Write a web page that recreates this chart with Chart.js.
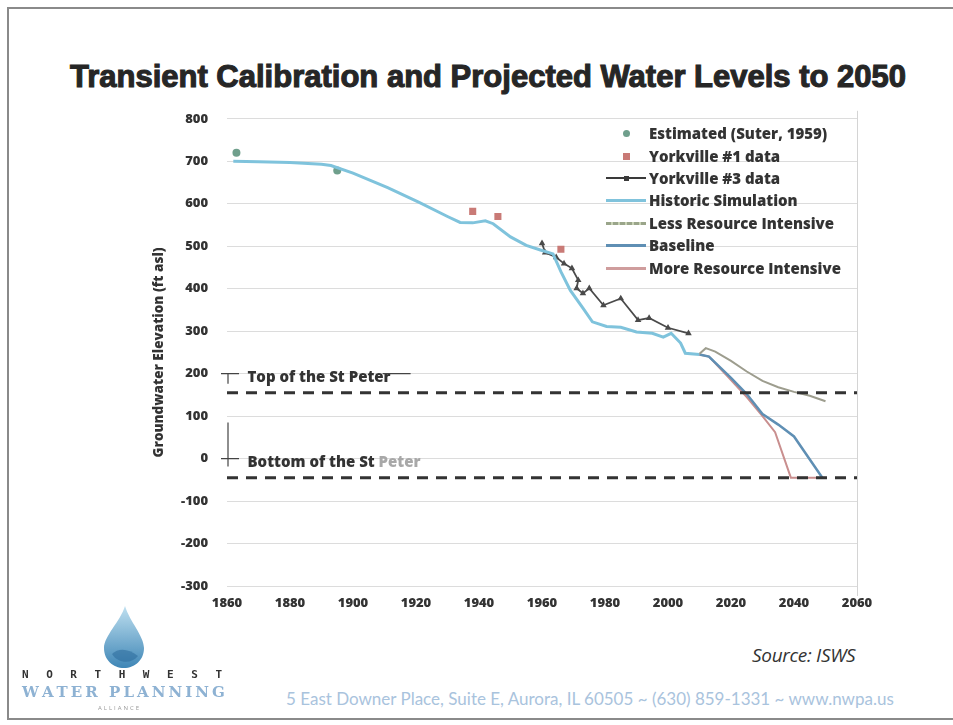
<!DOCTYPE html>
<html lang="en">
<head>
    <meta charset="UTF-8">
    <title>Transient Calibration and Projected Water Levels to 2050</title>
    <script src="https://cdn.jsdelivr.net/npm/chart.js"></script>
    <style>
        body {
            margin: 0;
            width: 953px;
            height: 725px;
            background: #fff;
            position: relative;
            overflow: hidden;
            font-family: 'Open Sans', sans-serif;
        }

        .frame {
            position: absolute;
            left: 7px;
            top: 7px;
            width: 960px;
            height: 709px;
            border: 2px solid #8a8a8a;
            border-right: none;
        }

        .title {
            position: absolute;
            left: 48px;
            width: 880px;
            top: 58px;
            line-height: 38px;
            text-align: center;
            font-family: 'Liberation Sans', Arial, sans-serif;
            font-weight: bold;
            font-size: 31px;
            color: #262626;
            -webkit-text-stroke: 1.1px #262626;
            white-space: nowrap;
        }

        #chartCanvas {
            position: absolute;
            left: 148px;
            top: 92px;
        }

        .legend {
            position: absolute;
            left: 606px;
            top: 122px;
            font-weight: 800;
            font-size: 15px;
            color: #333;
        }

        .legend .row {
            height: 22.4px;
            display: flex;
            align-items: center;
            white-space: nowrap;
        }

        .legend .sw {
            width: 40px;
            height: 12px;
            position: relative;
            margin-right: 3px;
        }

        .sw .ln {
            position: absolute;
            left: 0;
            right: 0;
            top: 5px;
            height: 3px;
        }

        .sw .dot {
            position: absolute;
            left: 17px;
            top: 3px;
            width: 7px;
            height: 7px;
        }

        .source {
            position: absolute;
            left: 752px;
            top: 642px;
            font-style: italic;
            font-size: 19px;
            letter-spacing: -0.3px;
            color: #333;
        }

        .address {
            position: absolute;
            left: 286px;
            top: 688px;
            font-family: 'Lato', sans-serif;
            font-size: 17px;
            color: #a9c3dd;
            white-space: nowrap;
        }

        .nw {
            position: absolute;
            left: 22px;
            top: 668px;
            width: 200px;
            display: flex;
            justify-content: space-between;
            font-family: 'DejaVu Sans Mono', monospace;
            font-size: 11px;
            font-weight: bold;
            color: #333;
        }

        .wp {
            position: absolute;
            left: 22px;
            top: 683px;
            width: 203px;
            display: flex;
            justify-content: space-between;
            font-family: 'DejaVu Serif', serif;
            font-size: 15px;
            font-weight: bold;
            color: #8eb2d3;
        }

        .al {
            position: absolute;
            left: 98px;
            top: 704px;
            font-size: 6px;
            letter-spacing: 2px;
            color: #999;
        }

        .logo {
            position: absolute;
            left: 98px;
            top: 604px;
        }
    </style>
</head>
<body>
    <div class="frame"></div>
    <div class="title">Transient Calibration and Projected Water Levels to 2050</div>

    <canvas id="chartCanvas" width="760" height="538"></canvas>

    <div class="legend">
        <div class="row"><div class="sw"><div class="dot" style="background:#6f9f8c;border-radius:50%"></div></div>Estimated (Suter, 1959)</div>
        <div class="row"><div class="sw"><div class="dot" style="background:#c97a76"></div></div>Yorkville #1 data</div>
        <div class="row"><div class="sw"><div class="ln" style="background:#3a3a3a;height:2px"></div><div class="dot" style="background:#3a3a3a;width:5px;height:5px;left:18px;top:4px"></div></div>Yorkville #3 data</div>
        <div class="row"><div class="sw"><div class="ln" style="background:#80c3dc"></div></div>Historic Simulation</div>
        <div class="row"><div class="sw"><div class="ln" style="background:repeating-linear-gradient(90deg,#9aa58a 0 5px,#c9d3b6 5px 7px)"></div></div>Less Resource Intensive</div>
        <div class="row"><div class="sw"><div class="ln" style="background:#5f8fb4"></div></div>Baseline</div>
        <div class="row"><div class="sw"><div class="ln" style="background:#cf9d9d"></div></div>More Resource Intensive</div>
    </div>

    <svg class="logo" width="52" height="66" viewBox="0 0 52 66">
        <defs>
            <linearGradient id="drop" x1="0" y1="0" x2="0" y2="1">
                <stop offset="0" stop-color="#bfe0f0"/>
                <stop offset="1" stop-color="#3f86b6"/>
            </linearGradient>
        </defs>
        <path d="M27 2 C22 18 6 32 6 44 C6 56 15 64 26 64 C37 64 46 56 46 44 C46 32 32 18 27 2 Z" fill="url(#drop)"/>
        <path d="M14 50 C20 44 30 44 40 52 C34 60 20 60 14 50 Z" fill="#2f6e9e" opacity="0.6"/>
    </svg>
    <div class="nw"><span>N</span><span>O</span><span>R</span><span>T</span><span>H</span><span>W</span><span>E</span><span>S</span><span>T</span></div>
    <div class="wp"><span>W</span><span>A</span><span>T</span><span>E</span><span>R</span><span>&nbsp;</span><span>P</span><span>L</span><span>A</span><span>N</span><span>N</span><span>I</span><span>N</span><span>G</span></div>
    <div class="al">ALLIANCE</div>

    <div class="source">Source: ISWS</div>
    <div class="address">5 East Downer Place, Suite E, Aurora, IL 60505 ~ (630) 859-1331 ~ www.nwpa.us</div>

    <script>
        // values
        const estYears = [1863, 1895];
        const estValues = [720, 678];

        const york1Years = [1938, 1946, 1966];
        const york1Values = [582, 570, 493];

        const york3Years = [1960, 1961, 1964.5, 1967, 1969.5, 1971.5, 1971, 1973, 1975, 1979.5, 1985, 1990.5, 1994, 2000, 2006.5];
        const york3Values = [507, 485, 474, 459, 448, 420, 401, 389, 401, 361, 377, 326, 331, 308, 295];

        const histYears = [1862, 1870, 1880, 1890, 1893, 1900, 1911, 1921, 1930, 1934, 1938, 1942, 1944.5, 1950, 1955, 1959.5, 1963.5, 1966, 1969, 1973, 1976, 1980.5, 1985, 1990, 1995, 1998.5, 2001, 2004, 2005.5, 2010];
        const histValues = [700, 699, 697, 693, 690, 672, 638, 603, 570, 556, 555, 560, 553, 522, 502, 491, 482, 440, 396, 354, 322, 311, 309, 298, 295, 286, 295, 272, 248, 245];

        const lessYears = [2010, 2012, 2015, 2020, 2025, 2030, 2035, 2040, 2045, 2050];
        const lessValues = [247, 260, 252, 230, 205, 183, 168, 157, 148, 135];

        const baseYears = [2010, 2013, 2020, 2025, 2030, 2035, 2040, 2049];
        const baseValues = [245, 240, 190, 152, 105, 80, 52, -45];

        const moreYears = [2010, 2013, 2020, 2025, 2030, 2034, 2039, 2050];
        const moreValues = [245, 240, 185, 145, 100, 62, -45, -45];

        const refYears = [1860, 2060];
        const stPeterTop = 155;
        const stPeterBottom = -45;

        const xTicks = [1860, 1880, 1900, 1920, 1940, 1960, 1980, 2000, 2020, 2040, 2060];

        const tickFont = { family: 'Open Sans', weight: 800, size: 13 };

        function pts(xs, ys) {
            return xs.map((x, i) => ({ x: x, y: ys[i] }));
        }

        function flat(xs, v) {
            return xs.map(x => ({ x: x, y: v }));
        }

        const labelsPlugin = {
            id: 'labels',
            afterDatasetsDraw(chart) {
                const ctx = chart.ctx;
                const xs = chart.scales.x;
                const ys = chart.scales.y;
                const area = chart.chartArea;
                ctx.save();
                // right edge of the chart box
                ctx.strokeStyle = '#d4d4d4';
                ctx.lineWidth = 1;
                ctx.beginPath();
                ctx.moveTo(area.right + 0.5, area.top - 8);
                ctx.lineTo(area.right + 0.5, area.bottom + 10);
                ctx.stroke();

                ctx.font = '800 15px "Open Sans"';
                ctx.textBaseline = 'middle';
                ctx.fillStyle = '#333';
                const x0 = xs.getPixelForValue(1866.5);
                const yTop = ys.getPixelForValue(190);
                ctx.fillText('Top of the St Peter', x0, yTop);
                const w1 = ctx.measureText('Top of the St Peter').width;
                const yBot = ys.getPixelForValue(-10);
                const part = 'Bottom of the St ';
                ctx.fillText(part, x0, yBot);
                ctx.fillStyle = '#a8a8a8';
                ctx.fillText('Peter', x0 + ctx.measureText(part).width, yBot);

                // small callout marks by the axis
                ctx.strokeStyle = '#444';
                ctx.lineWidth = 1.2;
                const ax = area.left;
                const y200 = ys.getPixelForValue(200);
                const y0 = ys.getPixelForValue(0);
                ctx.beginPath();
                ctx.moveTo(ax - 6, y200); ctx.lineTo(ax + 12, y200);
                ctx.moveTo(ax + 1, y200); ctx.lineTo(ax + 1, y200 + 10);
                ctx.moveTo(x0 + w1 - 8, y200); ctx.lineTo(x0 + w1 + 20, y200);
                ctx.moveTo(ax - 6, y0); ctx.lineTo(ax + 12, y0);
                ctx.moveTo(ax + 1, y0 - 36); ctx.lineTo(ax + 1, y0 + 8);
                ctx.stroke();
                ctx.restore();
            }
        };

        new Chart(document.getElementById('chartCanvas'), {
            type: 'line',
            data: {
                datasets: [
                    {
                        label: 'Top of the St Peter',
                        data: flat(refYears, stPeterTop),
                        borderColor: '#333',
                        borderWidth: 3,
                        borderDash: [11, 8],
                        pointRadius: 0
                    },
                    {
                        label: 'Bottom of the St Peter',
                        data: flat(refYears, stPeterBottom),
                        borderColor: '#333',
                        borderWidth: 3,
                        borderDash: [11, 8],
                        pointRadius: 0
                    },
                    {
                        label: 'Less Resource Intensive',
                        data: pts(lessYears, lessValues),
                        borderColor: '#9d9d8e',
                        borderWidth: 2,
                        pointRadius: 0
                    },
                    {
                        label: 'Baseline',
                        data: pts(baseYears, baseValues),
                        borderColor: '#5f8fb4',
                        borderWidth: 2.5,
                        pointRadius: 0
                    },
                    {
                        label: 'More Resource Intensive',
                        data: pts(moreYears, moreValues),
                        borderColor: '#c98f8f',
                        borderWidth: 2,
                        pointRadius: 0
                    },
                    {
                        label: 'Historic Simulation',
                        data: pts(histYears, histValues),
                        borderColor: '#7fc3dc',
                        borderWidth: 3,
                        pointRadius: 0
                    },
                    {
                        label: 'Yorkville #3 data',
                        data: pts(york3Years, york3Values),
                        borderColor: '#4a4a4a',
                        backgroundColor: '#4a4a4a',
                        borderWidth: 1.8,
                        pointRadius: 2,
                        pointStyle: 'triangle'
                    },
                    {
                        label: 'Yorkville #1 data',
                        data: pts(york1Years, york1Values),
                        showLine: false,
                        pointStyle: 'rect',
                        pointRadius: 5,
                        backgroundColor: '#c97a76',
                        borderWidth: 0
                    },
                    {
                        label: 'Estimated (Suter, 1959)',
                        data: pts(estYears, estValues),
                        showLine: false,
                        pointStyle: 'circle',
                        pointRadius: 4,
                        backgroundColor: '#6f9f8c',
                        borderWidth: 0
                    }
                ]
            },
            options: {
                responsive: false,
                animation: false,
                devicePixelRatio: 1,
                layout: { padding: { top: 10, right: 51, bottom: 10, left: 0 } },
                plugins: {
                    legend: { display: false },
                    tooltip: { enabled: false }
                },
                scales: {
                    x: {
                        type: 'linear',
                        min: 1860,
                        max: 2060,
                        afterBuildTicks: (scale) => { scale.ticks = xTicks.map(v => ({ value: v })); },
                        afterFit: (scale) => { scale.height = 34; },
                        grid: { display: false, drawTicks: false },
                        border: { display: false },
                        ticks: {
                            padding: 9,
                            color: '#333',
                            font: tickFont,
                            callback: v => String(v)
                        }
                    },
                    y: {
                        min: -300,
                        max: 800,
                        afterFit: (scale) => { scale.width = 79; },
                        grid: { color: '#dcdcdc', drawTicks: false },
                        border: { display: false },
                        ticks: {
                            stepSize: 100,
                            padding: 19,
                            color: '#333',
                            font: tickFont
                        },
                        title: {
                            display: true,
                            text: 'Groundwater Elevation (ft asl)',
                            color: '#333',
                            padding: { top: 3, bottom: 0 },
                            font: { family: 'Open Sans', weight: 800, size: 13.5 }
                        }
                    }
                }
            },
            plugins: [labelsPlugin]
        });
    </script>
</body>
</html>
